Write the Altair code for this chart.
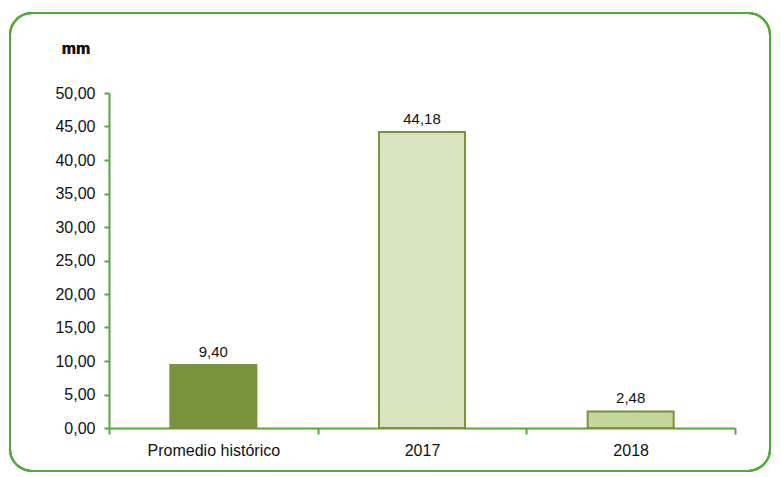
import altair as alt
import pandas as pd

categories = ["Promedio histórico", "2017", "2018"]
values = [9.40, 44.18, 2.48]
fills = ["#77933C", "#D7E4BD", "#C3D69B"]

df = pd.DataFrame({"cat": categories, "val": values, "fill": fills})

GREEN = "#52A93A"
FONT = "Liberation Sans"

x = alt.X("cat:N", sort=categories, title=None,
          scale=alt.Scale(paddingInner=0, paddingOuter=0),
          axis=alt.Axis(labelAngle=0, tickBand="extent", domainColor=GREEN,
                        tickColor=GREEN, tickSize=6, domainWidth=2, tickWidth=2,
                        labelFont=FONT, labelFontSize=16, labelColor="#111",
                        labelPadding=8))
y = alt.Y("val:Q", title=None,
          scale=alt.Scale(domain=[0, 50]),
          axis=alt.Axis(values=list(range(0, 51, 5)), grid=False,
                        domainColor=GREEN, tickColor=GREEN, tickSize=5,
                        domainWidth=2, tickWidth=2, labelOverlap=False,
                        labelFont=FONT, labelFontSize=16, labelColor="#111",
                        labelPadding=9,
                        labelExpr="replace(format(datum.value, '.2f'), '.', ',')"))

bars = alt.Chart(df).mark_bar(width=86, stroke="#77933C", strokeWidth=2).encode(
    x=x, y=y, fill=alt.Fill("fill:N", scale=None))

labels = alt.Chart(df).transform_calculate(
    lab="replace(format(datum.val, '.2f'), '.', ',')"
).mark_text(dy=-13, font=FONT, fontSize=15, color="#111").encode(
    x=x, y=y, text="lab:N")

border = alt.Chart(df).mark_rect(fill=None, stroke=GREEN, strokeWidth=2,
                                 cornerRadius=22).encode(
    x=alt.value(-99), x2=alt.value(661), y=alt.value(-80), y2=alt.value(378))

unit = alt.Chart(df).mark_text(font=FONT, fontSize=16, fontWeight="bold",
                               color="#111").encode(
    x=alt.value(-33), y=alt.value(-44), text=alt.value("mm"))

chart = alt.layer(border, bars, labels, unit).properties(
    width=626, height=335,
    autosize=alt.AutoSizeParams(type="none"),
    padding={"left": 101, "top": 85, "right": 36, "bottom": 45},
).configure_view(stroke=None)

chart.save("out.html", embed_options={"renderer": "svg", "actions": False})
